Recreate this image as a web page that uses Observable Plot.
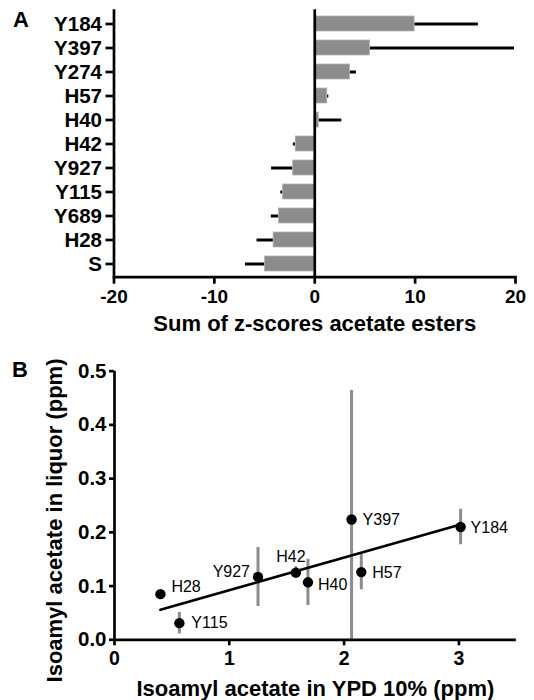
<!DOCTYPE html>
<html>
<head>
<meta charset="utf-8">
<script src="https://cdn.jsdelivr.net/npm/d3@7"></script>
<script src="https://cdn.jsdelivr.net/npm/@observablehq/plot@0.6"></script>
<style>
  html, body { margin: 0; padding: 0; background: #fff; }
  #wrap { position: relative; width: 534px; height: 700px; font-family: "Liberation Sans", Arial, Helvetica, sans-serif; }
  .panel { position: absolute; left: 0; }
  .letter { position: absolute; font-weight: bold; font-size: 22px; line-height: 1; color: #000; }
</style>
</head>
<body>
<div id="wrap">
  <div class="panel" id="pa" style="top:0"></div>
  <div class="panel" id="pb" style="top:340px"></div>
  <div class="letter" style="left:13px; top:9px">A</div>
  <div class="letter" style="left:12px; top:359px">B</div>
</div>
<script>
// ---------- Panel A data ----------
const strainsA = ["Y184","Y397","Y274","H57","H40","H42","Y927","Y115","Y689","H28","S"];
const zSum     = [9.95, 5.5, 3.5, 1.25, 0.4, -1.9, -2.15, -3.15, -3.55, -4.1, -4.95];
const zErr     = [6.35, 14.4, 0.65, 0.15, 2.3, 0.23, 2.15, 0.23, 0.78, 1.65, 1.95];
const xTicksA  = [-20, -10, 0, 10, 20];
const xTitleA  = "Sum of z-scores acetate esters";

// ---------- Panel B data ----------
const strainsB  = ["H28","Y115","Y927","H42","H40","Y397","H57","Y184"];
const ypd       = [0.40, 0.565, 1.25, 1.58, 1.685, 2.065, 2.15, 3.015];
const liquor    = [0.085, 0.031, 0.117, 0.125, 0.107, 0.224, 0.126, 0.210];
const liquorErr = [0.003, 0.02, 0.055, 0.011, 0.043, 0.24, 0.033, 0.033];
const xTicksB   = [0, 1, 2, 3];
const yTicksB   = [0, 0.1, 0.2, 0.3, 0.4, 0.5];
const xTitleB   = "Isoamyl acetate in YPD 10% (ppm)";
const yTitleB   = "Isoamyl acetate in liquor (ppm)";

// label placement for panel B (style/config, not data)
const labelPlace = {
  H28:  {dx: 11, dy: -7, anchor: "start"},
  Y115: {dx: 12, dy: 0, anchor: "start"},
  Y927: {dx: -8, dy: -5, anchor: "end"},
  H42:  {dx: -5, dy: -16, anchor: "middle"},
  H40:  {dx: 10, dy: 3, anchor: "start"},
  Y397: {dx: 11, dy: 0, anchor: "start"},
  H57:  {dx: 11, dy: 1, anchor: "start"},
  Y184: {dx: 10, dy: 1, anchor: "start"}
};

const FONT = "'Liberation Sans', Arial, Helvetica, sans-serif";
const GREY = "#8c8c8c";
const AXW = 2.7;
const plain = d => String(d);

const dataA = strainsA.map((s, i) => ({strain: s, value: zSum[i], err: zErr[i]}));
const dataB = strainsB.map((s, i) => ({strain: s, x: ypd[i], y: liquor[i], err: liquorErr[i]}));

const plotA = Plot.plot({
  width: 534, height: 340,
  marginLeft: 113.5, marginRight: 19, marginTop: 9.3, marginBottom: 63.3,
  style: {fontFamily: FONT, fontSize: "22px", fontWeight: "bold", color: "#000", background: "transparent"},
  x: {domain: [-20, 20]},
  y: {domain: strainsA, paddingInner: 0.38, paddingOuter: 0.2},
  marks: [
    Plot.ruleY(dataA, {y: "strain", x1: "value", x2: d => d.value + Math.sign(d.value) * d.err, stroke: "#000", strokeWidth: 3}),
    Plot.barX(dataA, {y: "strain", x: "value", fill: GREY, stroke: "#b5b5b5", strokeWidth: 0.8}),
    Plot.ruleX([-20, 0], {stroke: "#000", strokeWidth: AXW}),
    Plot.frame({anchor: "bottom", stroke: "#000", strokeWidth: AXW}),
    Plot.axisY({tickSize: 8, tickPadding: 4, strokeWidth: AXW, fontSize: 20.5, label: null}),
    Plot.axisX({ticks: xTicksA, tickFormat: plain, tickSize: 7, tickPadding: 5, strokeWidth: AXW, fontSize: 19, label: null}),
    Plot.text([xTitleA], {frameAnchor: "bottom", textAnchor: "middle", lineAnchor: "middle", dy: 46.3,
      fontSize: 22, fontWeight: "bold", fill: "#000"})
  ]
});
document.getElementById("pa").appendChild(plotA);

const plotB = Plot.plot({
  width: 534, height: 360,
  marginLeft: 114, marginRight: 18.2, marginTop: 30.7, marginBottom: 60.7,
  style: {fontFamily: FONT, fontSize: "22px", fontWeight: "bold", color: "#000", background: "transparent"},
  x: {domain: [0, 3.5]},
  y: {domain: [0, 0.5]},
  marks: [
    Plot.ruleX(dataB, {x: "x", y1: d => d.y - d.err, y2: d => d.y + d.err, stroke: GREY, strokeWidth: 3, clip: true}),
    Plot.linearRegressionY(dataB, {x: "x", y: "y", ci: 0, stroke: "#000", strokeWidth: 2.6}),
    Plot.dot(dataB, {x: "x", y: "y", r: 5.2, fill: "#000", stroke: null}),
    ...Object.entries(labelPlace).map(([k, p]) =>
      Plot.text(dataB.filter(d => d.strain === k), {x: "x", y: "y", text: "strain", dx: p.dx, dy: p.dy,
        textAnchor: p.anchor, fontSize: 16, fontWeight: "normal", fill: "#000"})),
    Plot.ruleX([0], {stroke: "#000", strokeWidth: AXW}),
    Plot.ruleY([0], {stroke: "#000", strokeWidth: AXW}),
    Plot.axisY({ticks: yTicksB, tickFormat: d3.format(".1f"), tickSize: 5, tickPadding: 3, strokeWidth: AXW, fontSize: 20.5, label: null}),
    Plot.text([yTitleB], {frameAnchor: "left", textAnchor: "middle", rotate: -90, dx: -59.5, dy: 15,
      fontSize: 22, fontWeight: "bold", fill: "#000"}),
    Plot.axisX({ticks: xTicksB, tickFormat: plain, tickSize: 6, tickPadding: 5, strokeWidth: AXW, fontSize: 19.5, label: null}),
    Plot.text([xTitleB], {frameAnchor: "bottom", textAnchor: "middle", lineAnchor: "middle", dy: 48.7,
      fontSize: 22, fontWeight: "bold", fill: "#000"})
  ]
});
document.getElementById("pb").appendChild(plotB);
</script>
</body>
</html>
